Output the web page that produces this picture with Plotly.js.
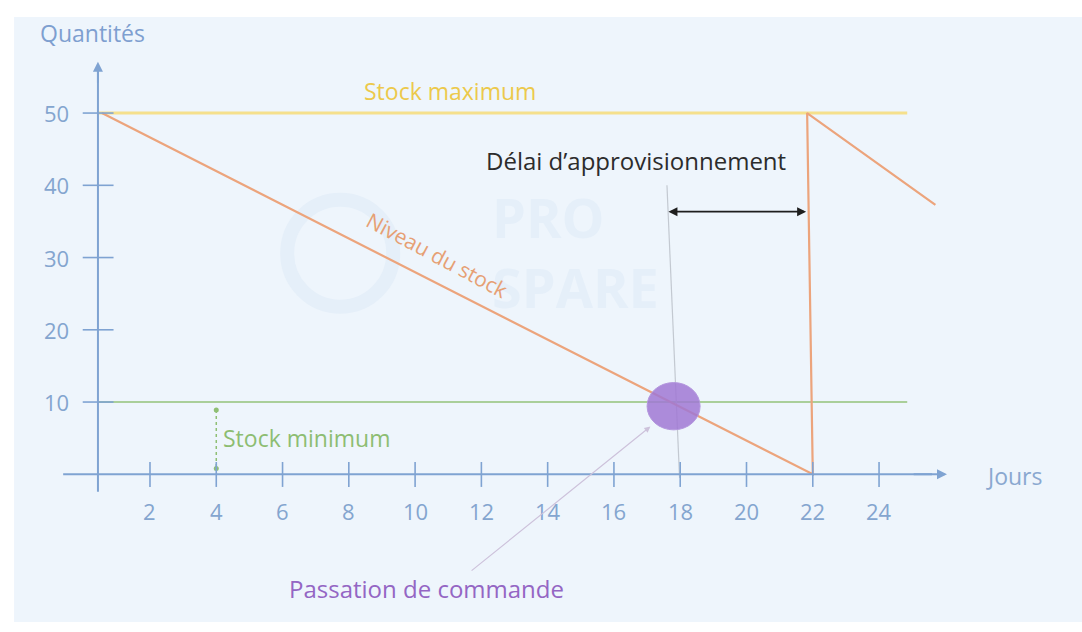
<!DOCTYPE html>
<html>
<head>
<meta charset="utf-8">
<script src="https://cdn.plot.ly/plotly-3.0.1.min.js"></script>
<style>html,body{margin:0;padding:0;background:#fff;}#chart{width:1082px;height:632px;}</style>
</head>
<body>
<div id="chart"></div>
<script>
// ---- data ----
const stockDays = [0.55, 22, 21.83, 25.7];
const stockLevel = [50, 0, 50, 37.3];
const stockMax = 50;
const stockMin = 10;
const refLineDays = [0.45, 24.85];
const orderDay = 17.6;
const orderBottomDay = 17.98;
const deliveryDay = 21.8;
const minArrowDay = 4;
const xTickVals = [2, 4, 6, 8, 10, 12, 14, 16, 18, 20, 22, 24];
const xTickLabels = ["2", "4", "6", "8", "10", "12", "14", "16", "18", "20", "22", "24"];
const yTickVals = [10, 20, 30, 40, 50];
const yTickLabels = ["10", "20", "30", "40", "50"];

// ---- style ----
const FONT = "Open Sans, Noto Sans, sans-serif";
const AXIS = "#7fa3d2";
const TICKTXT = "#84a5cf";
const YAXIS_X = 0.43;

const traces = [
  {x: refLineDays, y: [stockMax, stockMax], mode: "lines", line: {color: "#f5e08c", width: 3}},
  {x: refLineDays, y: [stockMin, stockMin], mode: "lines", line: {color: "#93c27a", width: 1.6}},
  {x: [orderDay, orderBottomDay], y: [40, -0.5], mode: "lines", line: {color: "#c3c9d1", width: 1.2}},
  {x: stockDays, y: stockLevel, mode: "lines", line: {color: "#eca47c", width: 2.2}},
  {x: [minArrowDay, minArrowDay], y: [8.9, 0.8], mode: "lines+markers",
   line: {color: "#8fbf74", width: 1.5, dash: "dot"}, marker: {color: "#8fbf74", size: 5}}
];

const shapes = [
  {type: "rect", xref: "paper", yref: "paper", x0: 0.013, x1: 1, y0: 0.016, y1: 0.973,
   fillcolor: "#eef5fc", line: {width: 0}, layer: "below"},
  {type: "circle", xref: "x", yref: "y", x0: 7.74 - 1.6, x1: 7.74 + 1.6, y0: 30.6 - 7.4, y1: 30.6 + 7.4,
   line: {color: "#e5eff9", width: 14}, fillcolor: "rgba(0,0,0,0)", layer: "below"}
];

shapes.push({type: "line", xref: "x", yref: "y", x0: YAXIS_X, x1: YAXIS_X, y0: -2.4, y1: 56, line: {color: AXIS, width: 2}});
shapes.push({type: "line", xref: "x", yref: "y", x0: -0.62, x1: 25.6, y0: 0, y1: 0, line: {color: AXIS, width: 2}});
xTickVals.forEach(v => shapes.push({type: "line", xref: "x", yref: "y", x0: v, x1: v, y0: -1.75, y1: 1.7, line: {color: AXIS, width: 1.6}}));
yTickVals.forEach(v => shapes.push({type: "line", xref: "x", yref: "y", x0: -0.03, x1: 0.9, y0: v, y1: v, line: {color: AXIS, width: 1.6}}));
shapes.push({type: "circle", xref: "x", yref: "y", x0: 17.0, x1: 18.6, y0: 6.15, y1: 12.7,
  fillcolor: "rgba(160,120,212,0.85)", line: {color: "#b497de", width: 1}, layer: "above"});

const annotations = [];
const txt = (x, y, text, size, color, extra) => Object.assign({x, y, xref: "x", yref: "y", text, showarrow: false,
  font: {family: FONT, size, color}}, extra || {});

// watermark first (drawn below)
annotations.push(txt(12.26, 30.8, "<b>PRO<br>SPARE</b>", 54, "#e5eff9", {xanchor: "left", align: "left"}));

xTickVals.forEach((v, i) => annotations.push(txt(v, -5.1, xTickLabels[i], 22, TICKTXT, {xanchor: "center", yanchor: "middle"})));
yTickVals.forEach((v, i) => annotations.push(txt(-0.38, v, yTickLabels[i], 22, TICKTXT, {xanchor: "right", yanchor: "middle"})));

annotations.push({x: YAXIS_X, y: 57.1, ax: YAXIS_X, ay: 54, xref: "x", yref: "y", axref: "x", ayref: "y", text: "",
  showarrow: true, arrowhead: 2, arrowsize: 1, arrowwidth: 2, arrowcolor: AXIS});
annotations.push({x: 26.05, y: 0, ax: 25, ay: 0, xref: "x", yref: "y", axref: "x", ayref: "y", text: "",
  showarrow: true, arrowhead: 2, arrowsize: 1, arrowwidth: 2, arrowcolor: AXIS});
annotations.push({x: deliveryDay, y: 36.35, ax: orderDay, ay: 36.35, xref: "x", yref: "y", axref: "x", ayref: "y", text: "",
  showarrow: true, arrowhead: 2, startarrowhead: 2, arrowside: "end+start", arrowsize: 1, arrowwidth: 1.8, arrowcolor: "#1e1e1e"});
annotations.push({x: 17.1, y: 6.6, ax: 11.66, ay: -13.5, xref: "x", yref: "y", axref: "x", ayref: "y", text: "",
  showarrow: true, arrowhead: 2, arrowsize: 1, arrowwidth: 1.2, arrowcolor: "#cdc2db"});

annotations.push(txt(0.28, 61.1, "Quantités", 23, "#7e9fd0"));
annotations.push(txt(28.07, -0.2, "Jours", 23, "#8aa8d0"));
annotations.push(txt(11.05, 53.1, "Stock maximum", 23, "#ecc94b"));
annotations.push(txt(4.15, 5.0, "Stock minimum", 23, "#8dbd72", {xanchor: "left"}));
annotations.push(txt(16.67, 43.4, "Délai d’approvisionnement", 24, "#2c2c2c"));
annotations.push(txt(10.33, -15.85, "Passation de commande", 24, "#9466c4"));
annotations.push(txt(10.66, 30.3, "Niveau du stock", 21, "#e6a074", {textangle: 28}));

const layout = {
  width: 1082, height: 632,
  margin: {l: 0, r: 0, t: 0, b: 0, pad: 0},
  paper_bgcolor: "#ffffff", plot_bgcolor: "rgba(0,0,0,0)",
  showlegend: false,
  xaxis: {range: [-2.526, 30.124], visible: false, fixedrange: true},
  yaxis: {range: [-21.83, 65.65], visible: false, fixedrange: true},
  shapes, annotations,
  font: {family: FONT}
};

Plotly.newPlot("chart", traces, layout, {staticPlot: true, displayModeBar: false});
</script>
</body>
</html>
